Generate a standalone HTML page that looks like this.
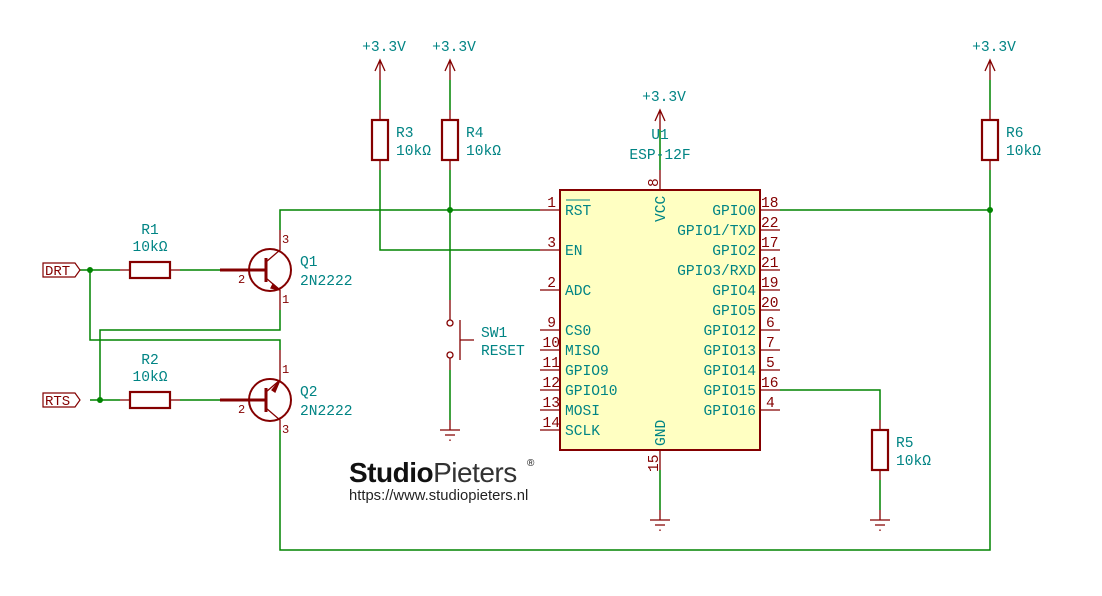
<!DOCTYPE html>
<html><head><style>
html,body{margin:0;padding:0;background:#fff;width:1102px;height:596px;overflow:hidden}
svg text{font-family:"Liberation Mono","DejaVu Sans Mono",monospace;font-size:14.6px;fill:#008484}
</style></head><body>
<svg width="1102" height="596" viewBox="0 0 1102 596" xmlns="http://www.w3.org/2000/svg">
<defs>
<g id="pwr"><path d="M-5,71 L0,60 L5,71 M0,60 L0,80" stroke="#840000" stroke-width="1.3" fill="none"/></g>
<g id="gnd"><path d="M-10,0 H10 M-5,5 H5" stroke="#840000" stroke-width="1.3" fill="none"/><rect x="-0.7" y="9.5" width="1.4" height="1.4" fill="#840000"/></g>
</defs>
<g stroke="#008400" stroke-width="1.5" fill="none">
<path d="M80,270 H120 M180,270 H220"/>
<path d="M90,400 H120 M180,400 H220"/>
<path d="M90,270 V340 H280 V350"/>
<path d="M100,400 V330 H280 V310"/>
<path d="M280,230 V210 H540"/>
<path d="M280,430 V550 H990 V210 H780"/>
<path d="M380,80 V110 M380,170 V250 H540"/>
<path d="M450,80 V110 M450,170 V300 M450,370 V420"/>
<path d="M990,80 V110 M990,170 V210"/>
<path d="M660,130 V170 M660,470 V510"/>
<path d="M780,390 H880 V420 M880,480 V510"/>
</g>
<g fill="#008400"><circle cx="90" cy="270" r="3"/><circle cx="100" cy="400" r="3"/><circle cx="450" cy="210" r="3"/><circle cx="990" cy="210" r="3"/></g>
<use href="#pwr" x="380" y="0"/><use href="#pwr" x="450" y="0"/><use href="#pwr" x="990" y="0"/><use href="#pwr" x="660" y="50"/>
<text x="384" y="51" text-anchor="middle">+3.3V</text>
<text x="454" y="51" text-anchor="middle">+3.3V</text>
<text x="994" y="51" text-anchor="middle">+3.3V</text>
<text x="664" y="101" text-anchor="middle">+3.3V</text>
<use href="#gnd" x="450" y="430"/><use href="#gnd" x="660" y="520"/><use href="#gnd" x="880" y="520"/>
<g stroke="#840000" stroke-width="1.3" fill="none"><path d="M450,420 V430 M660,510 V520 M880,510 V520"/></g>
<g stroke="#840000" stroke-width="2.2" fill="none">
<rect x="372" y="120" width="16" height="40"/>
<rect x="442" y="120" width="16" height="40"/>
<rect x="982" y="120" width="16" height="40"/>
<rect x="872" y="430" width="16" height="40"/>
<rect x="130" y="262" width="40" height="16"/>
<rect x="130" y="392" width="40" height="16"/>
</g>
<g stroke="#840000" stroke-width="1.3" fill="none">
<path d="M380,110V120 M380,160V170 M450,110V120 M450,160V170 M990,110V120 M990,160V170 M880,420V430 M880,470V480 M120,270H130 M170,270H180 M120,400H130 M170,400H180"/>
</g>
<text x="396" y="137">R3</text><text x="396" y="155">10kΩ</text>
<text x="466" y="137">R4</text><text x="466" y="155">10kΩ</text>
<text x="1006" y="137">R6</text><text x="1006" y="155">10kΩ</text>
<text x="896" y="447">R5</text><text x="896" y="465">10kΩ</text>
<text x="150" y="234" text-anchor="middle">R1</text><text x="150" y="251" text-anchor="middle">10kΩ</text>
<text x="150" y="364" text-anchor="middle">R2</text><text x="150" y="381" text-anchor="middle">10kΩ</text>
<g stroke="#840000" stroke-width="1.2" fill="none">
<path d="M43,263 H75 L80,270 L75,277 H43 Z"/>
<path d="M43,393 H75 L80,400 L75,407 H43 Z"/>
</g>
<text x="45" y="275" style="fill:#840000;font-size:14px">DRT</text>
<text x="45" y="405" style="fill:#840000;font-size:14px">RTS</text>
<g stroke="#840000" stroke-width="1.3" fill="none">
<circle cx="270" cy="270" r="21" stroke-width="2"/>
<path d="M220,270 H266 M266,258 V282" stroke-width="3"/>
<path d="M266,262 L280,250 V230 M266,278 L280,290 V310"/>
<circle cx="270" cy="400" r="21" stroke-width="2"/>
<path d="M220,400 H266 M266,388 V412" stroke-width="3"/>
<path d="M266,392 L280,380 V350 M266,408 L280,420 V430"/>
<path d="M272,390 L280,380 L275,392 Z" fill="#840000"/>
<path d="M273,284 L280,290 L271,288 Z" fill="#840000"/>
</g>
<text x="282" y="243" style="fill:#840000;font-size:12px">3</text><text x="282" y="303" style="fill:#840000;font-size:12px">1</text>
<text x="282" y="373" style="fill:#840000;font-size:12px">1</text><text x="282" y="433" style="fill:#840000;font-size:12px">3</text>
<text x="238" y="283" style="fill:#840000;font-size:12px">2</text><text x="238" y="413" style="fill:#840000;font-size:12px">2</text>
<text x="300" y="266">Q1</text><text x="300" y="285">2N2222</text>
<text x="300" y="396">Q2</text><text x="300" y="415">2N2222</text>
<g stroke="#840000" stroke-width="1.3" fill="none">
<path d="M450,300 V320 M450,358 V370"/>
<circle cx="450" cy="323" r="3"/><circle cx="450" cy="355" r="3"/>
<path d="M460,320 V360 M460,340 H474"/>
</g>
<text x="481" y="337">SW1</text><text x="481" y="355">RESET</text>
<rect x="560" y="190" width="200" height="260" fill="#ffffc2" stroke="#840000" stroke-width="2"/>
<g stroke="#840000" stroke-width="1.3" fill="none">
<path d="M540,210H560 M540,250H560 M540,290H560 M540,330H560 M540,350H560 M540,370H560 M540,390H560 M540,410H560 M540,430H560"/>
<path d="M760,210H780 M760,230H780 M760,250H780 M760,270H780 M760,290H780 M760,310H780 M760,330H780 M760,350H780 M760,370H780 M760,390H780 M760,410H780"/>
<path d="M660,170V190 M660,450V470"/>
</g>
<g>
<text x="556" y="207" text-anchor="end" style="fill:#840000">1</text>
<text x="556" y="247" text-anchor="end" style="fill:#840000">3</text>
<text x="556" y="287" text-anchor="end" style="fill:#840000">2</text>
<text x="556" y="327" text-anchor="end" style="fill:#840000">9</text>
<text x="560" y="347" text-anchor="end" style="fill:#840000">10</text>
<text x="560" y="367" text-anchor="end" style="fill:#840000">11</text>
<text x="560" y="387" text-anchor="end" style="fill:#840000">12</text>
<text x="560" y="407" text-anchor="end" style="fill:#840000">13</text>
<text x="560" y="427" text-anchor="end" style="fill:#840000">14</text>
<text x="761" y="207" style="fill:#840000">18</text>
<text x="761" y="227" style="fill:#840000">22</text>
<text x="761" y="247" style="fill:#840000">17</text>
<text x="761" y="267" style="fill:#840000">21</text>
<text x="761" y="287" style="fill:#840000">19</text>
<text x="761" y="307" style="fill:#840000">20</text>
<text x="766" y="327" style="fill:#840000">6</text>
<text x="766" y="347" style="fill:#840000">7</text>
<text x="766" y="367" style="fill:#840000">5</text>
<text x="761" y="387" style="fill:#840000">16</text>
<text x="766" y="407" style="fill:#840000">4</text>
<text transform="translate(658,187) rotate(-90)" style="fill:#840000">8</text>
<text transform="translate(658,472) rotate(-90)" style="fill:#840000">15</text>
</g>
<text x="565" y="215">RST</text><path d="M566,200 H590" stroke="#008484" stroke-width="1"/>
<text x="565" y="255">EN</text>
<text x="565" y="295">ADC</text>
<text x="565" y="335">CS0</text>
<text x="565" y="355">MISO</text>
<text x="565" y="375">GPIO9</text>
<text x="565" y="395">GPIO10</text>
<text x="565" y="415">MOSI</text>
<text x="565" y="435">SCLK</text>
<g text-anchor="end">
<text x="756" y="215">GPIO0</text>
<text x="756" y="235">GPIO1/TXD</text>
<text x="756" y="255">GPIO2</text>
<text x="756" y="275">GPIO3/RXD</text>
<text x="756" y="295">GPIO4</text>
<text x="756" y="315">GPIO5</text>
<text x="756" y="335">GPIO12</text>
<text x="756" y="355">GPIO13</text>
<text x="756" y="375">GPIO14</text>
<text x="756" y="395">GPIO15</text>
<text x="756" y="415">GPIO16</text>
</g>
<text transform="translate(665,222) rotate(-90)">VCC</text>
<text transform="translate(665,446) rotate(-90)">GND</text>
<text x="660" y="139" text-anchor="middle">U1</text>
<text x="660" y="159" text-anchor="middle">ESP-12F</text>
<text x="349" y="482" style="font-family:'Liberation Sans',sans-serif;font-size:28px;fill:#111;font-weight:bold;letter-spacing:-0.5px">Studio<tspan style="font-weight:normal;fill:#333">Pieters</tspan></text>
<text x="527" y="466" style="font-family:'Liberation Sans',sans-serif;font-size:10px;fill:#111">®</text>
<text x="349" y="500" style="font-family:'Liberation Sans',sans-serif;font-size:14.8px;fill:#222">https://www.studiopieters.nl</text>
</svg>
</body></html>
